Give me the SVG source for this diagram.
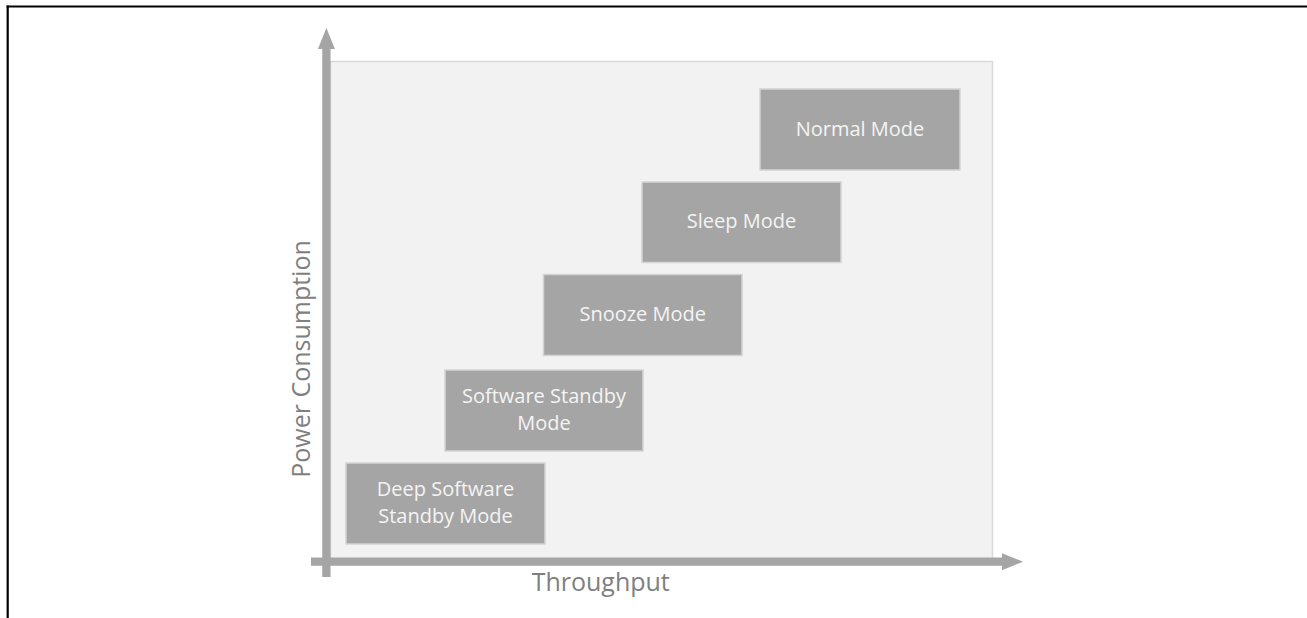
<svg xmlns="http://www.w3.org/2000/svg" width="1307" height="618" viewBox="0 0 1307 618">
  <style>
    .frame { stroke: #000000; stroke-width: 2.2; fill: none; }
    .plot { fill: #f2f2f2; stroke: #d9d9d9; stroke-width: 1.5; }
    .axis { stroke: #a5a5a5; stroke-width: 8.3; fill: none; }
    .box { fill: #a5a5a5; stroke: #d4d4d4; stroke-width: 1.5; }
    .lbl { font-family: "Open Sans", "Noto Sans", sans-serif; font-size: 20px; fill: #f4f4f4; text-anchor: middle; }
    .axlbl { font-family: "Open Sans", "Noto Sans", sans-serif; font-size: 25px; fill: #7f7f7f; text-anchor: middle; }
  </style>
  <defs>
    <marker id="arrow" markerUnits="userSpaceOnUse" markerWidth="22" markerHeight="18" refX="0" refY="8.5" orient="auto">
      <path d="M0,0 L21,8.5 L0,17 z" fill="#a5a5a5"/>
    </marker>
  </defs>
  <rect width="1307" height="618" fill="#ffffff"/>
  <g id="frame">
    <line class="frame" x1="6.6" y1="6.5" x2="1307" y2="6.5"/>
    <line class="frame" x1="7.7" y1="5.4" x2="7.7" y2="618"/>
  </g>
  <g id="plot-area">
    <rect class="plot" x="330.5" y="61.5" width="662" height="500"/>
  </g>
  <g id="connectors">
    <line class="axis" x1="326.4" y1="577" x2="326.4" y2="49" marker-end="url(#arrow)"/>
    <line class="axis" x1="311" y1="561.7" x2="1002" y2="561.7" marker-end="url(#arrow)"/>
  </g>
  <g id="axis-labels">
    <text class="axlbl" x="600.7" y="591">Throughput</text>
    <text class="axlbl" transform="translate(309.5,359) rotate(-90)">Power Consumption</text>
  </g>
  <g id="deep-software-standby">
    <rect class="box" x="346" y="463" width="199" height="81"/>
    <text class="lbl" x="445.5" y="496">Deep Software</text>
    <text class="lbl" x="445.5" y="522.7">Standby Mode</text>
  </g>
  <g id="software-standby">
    <rect class="box" x="445" y="370" width="198" height="81"/>
    <text class="lbl" x="544" y="403.3">Software Standby</text>
    <text class="lbl" x="544" y="430">Mode</text>
  </g>
  <g id="snooze">
    <rect class="box" x="543.5" y="274.5" width="198.5" height="81"/>
    <text class="lbl" x="642.75" y="321">Snooze Mode</text>
  </g>
  <g id="sleep">
    <rect class="box" x="642" y="182" width="199" height="80.5"/>
    <text class="lbl" x="741.5" y="228">Sleep Mode</text>
  </g>
  <g id="normal">
    <rect class="box" x="760" y="89" width="200" height="81"/>
    <text class="lbl" x="860" y="135.5">Normal Mode</text>
  </g>
</svg>
